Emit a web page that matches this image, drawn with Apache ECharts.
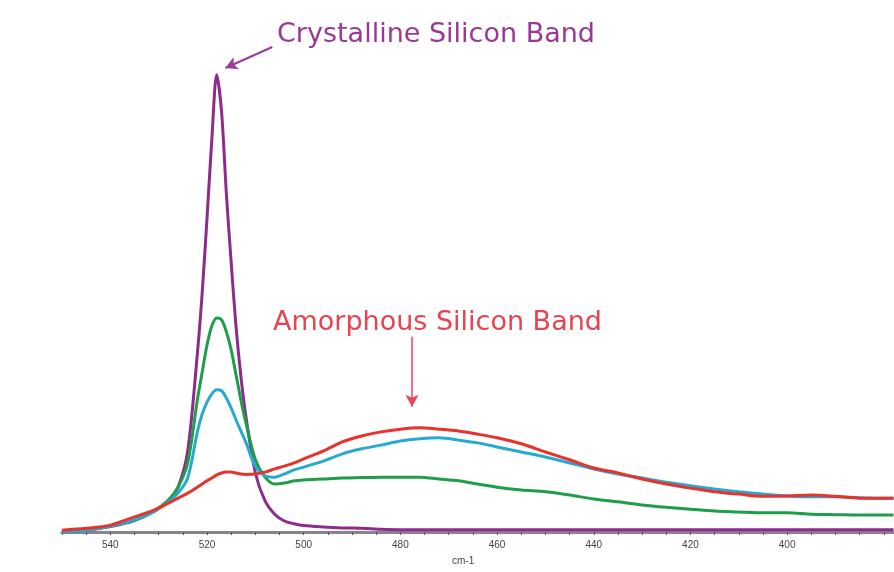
<!DOCTYPE html>
<html>
<head>
<meta charset="utf-8">
<script src="https://cdn.jsdelivr.net/npm/echarts@6/dist/echarts.min.js"></script>
<style>
html,body{margin:0;padding:0;background:#fff;}
#chart{width:894px;height:572px;}
</style>
</head>
<body>
<div id="chart"></div>
<script>
// Raman shift (cm-1)
const wavenumbers = [550,545,540,535,531,528,526,524,522,521,520,519,518,517,516,515,514,513,512,510,508,506,504,502,500,496,492,488,484,480,476,472,468,464,460,455,450,445,440,435,430,425,420,415,410,405,400,395,390,385,380,378];
// Intensities (arbitrary units, crystalline peak = 100)
const crystalline = [0.2,0.4,1.2,2.5,4.5,6.9,9.8,17.7,39.0,52.3,68.7,86.0,100,92.0,74.0,58.9,44.9,34.1,25.6,12.9,6.8,3.9,2.4,1.8,1.4,1.1,0.9,0.8,0.6,0.5,0.5,0.5,0.5,0.5,0.5,0.5,0.5,0.5,0.5,0.5,0.5,0.5,0.5,0.5,0.5,0.5,0.5,0.5,0.5,0.5,0.5,0.5];
const mixedGreen = [0.1,0.4,1.3,2.6,4.6,7.0,9.8,15.1,28.9,35.0,40.9,45.1,46.8,46.4,43.8,39.8,34.4,28.9,24.1,15.8,12.0,10.5,10.7,11.2,11.4,11.6,11.8,11.9,12.0,12.0,12.0,11.6,11.2,10.5,9.8,9.2,8.8,8.1,7.2,6.6,5.9,5.4,5.0,4.6,4.4,4.2,4.2,3.9,3.8,3.7,3.7,3.7];
const mixedCyan = [0.1,0.4,1.3,2.6,4.4,6.6,8.5,11.8,21.9,25.8,28.4,30.2,31.1,30.9,29.3,27.1,24.5,22.1,19.7,14.4,12.3,12.0,12.7,13.6,14.2,15.5,17.1,18.2,19.0,19.9,20.4,20.6,20.1,19.5,18.6,17.5,16.4,15.1,13.8,12.7,11.8,10.9,10.1,9.4,8.8,8.3,7.9,7.7,7.7,7.5,7.4,7.4];
const amorphous = [0.4,0.8,1.5,3.3,4.8,6.3,7.4,8.5,9.8,10.5,11.2,11.8,12.5,12.9,13.1,13.1,12.9,12.7,12.6,12.7,13.1,13.8,14.4,15.1,16.0,17.7,19.7,21.0,21.9,22.5,22.8,22.5,22.1,21.4,20.6,19.3,17.5,15.8,14.0,12.9,11.6,10.5,9.6,8.8,8.3,7.8,7.9,8.1,7.8,7.4,7.4,7.4];
const tickLabels = [540,520,500,480,460,440,420,400];
const minorTicks = [550,545,540,535,530,525,520,515,510,505,500,495,490,485,480,475,470,465,460,455,450,445,440,435,430,425,420,415,410,405,400,395,390,385,380];
// annotation anchors in data units
const crystArrow = [[506.5,106.1],[516.2,101.5]];
const amorArrow = [[477.6,42.7],[477.6,27.4]];

const pair = arr => wavenumbers.map((v,i)=>[v, arr[i]]);
const chart = echarts.init(document.getElementById('chart'), null, {renderer:'canvas'});

function lineSeries(name, data, color, z){
  return {
    name, type:'line', data:pair(data), smooth:0.3, showSymbol:false, z,
    lineStyle:{color, width:3}, itemStyle:{color}, animation:false
  };
}

const option = {
  backgroundColor:'#ffffff',
  animation:false,
  grid:{left:62, right:0.5, top:20, bottom:40},
  xAxis:{
    type:'value', inverse:true, min:378, max:550,
    axisLine:{show:true, onZero:false, lineStyle:{color:'#8a8290', width:3}},
    axisTick:{show:true, customValues:minorTicks, length:3, inside:false, lineStyle:{color:'#555', width:1}},
    axisLabel:{customValues:tickLabels, color:'#444', fontSize:10, fontFamily:'Liberation Sans', margin:8},
    splitLine:{show:false}
  },
  yAxis:{type:'value', min:0, max:112, show:false, splitLine:{show:false}},
  series:[
    Object.assign(lineSeries('Crystalline', crystalline, '#8e2a8c', 2), {
      markLine:{
        silent:true, symbol:['none','arrow'], symbolSize:[10,12], label:{show:false},
        animation:false,
        data:[
          [{coord:crystArrow[0], lineStyle:{color:'#9a3d96', width:2, type:'solid'}}, {coord:crystArrow[1]}],
          [{coord:amorArrow[0], lineStyle:{color:'#e8465a', width:1.5, type:'solid'}}, {coord:amorArrow[1]}]
        ]
      }
    }),
    lineSeries('Green', mixedGreen, '#1f9e4a', 3),
    lineSeries('Cyan', mixedCyan, '#27a9d2', 4),
    lineSeries('Amorphous', amorphous, '#e8322c', 5)
  ],
  graphic:[
    {type:'text', left:277, top:21, style:{text:'Crystalline Silicon Band', fill:'#9a3896', font:'27px "DejaVu Sans"'}},
    {type:'text', left:273, top:309, style:{text:'Amorphous Silicon Band', fill:'#e8434e', font:'27px "DejaVu Sans"'}},
    {type:'text', left:452, top:556, style:{text:'cm-1', fill:'#444', font:'10px "Liberation Sans"'}}
  ]
};
chart.setOption(option);
</script>
</body>
</html>
